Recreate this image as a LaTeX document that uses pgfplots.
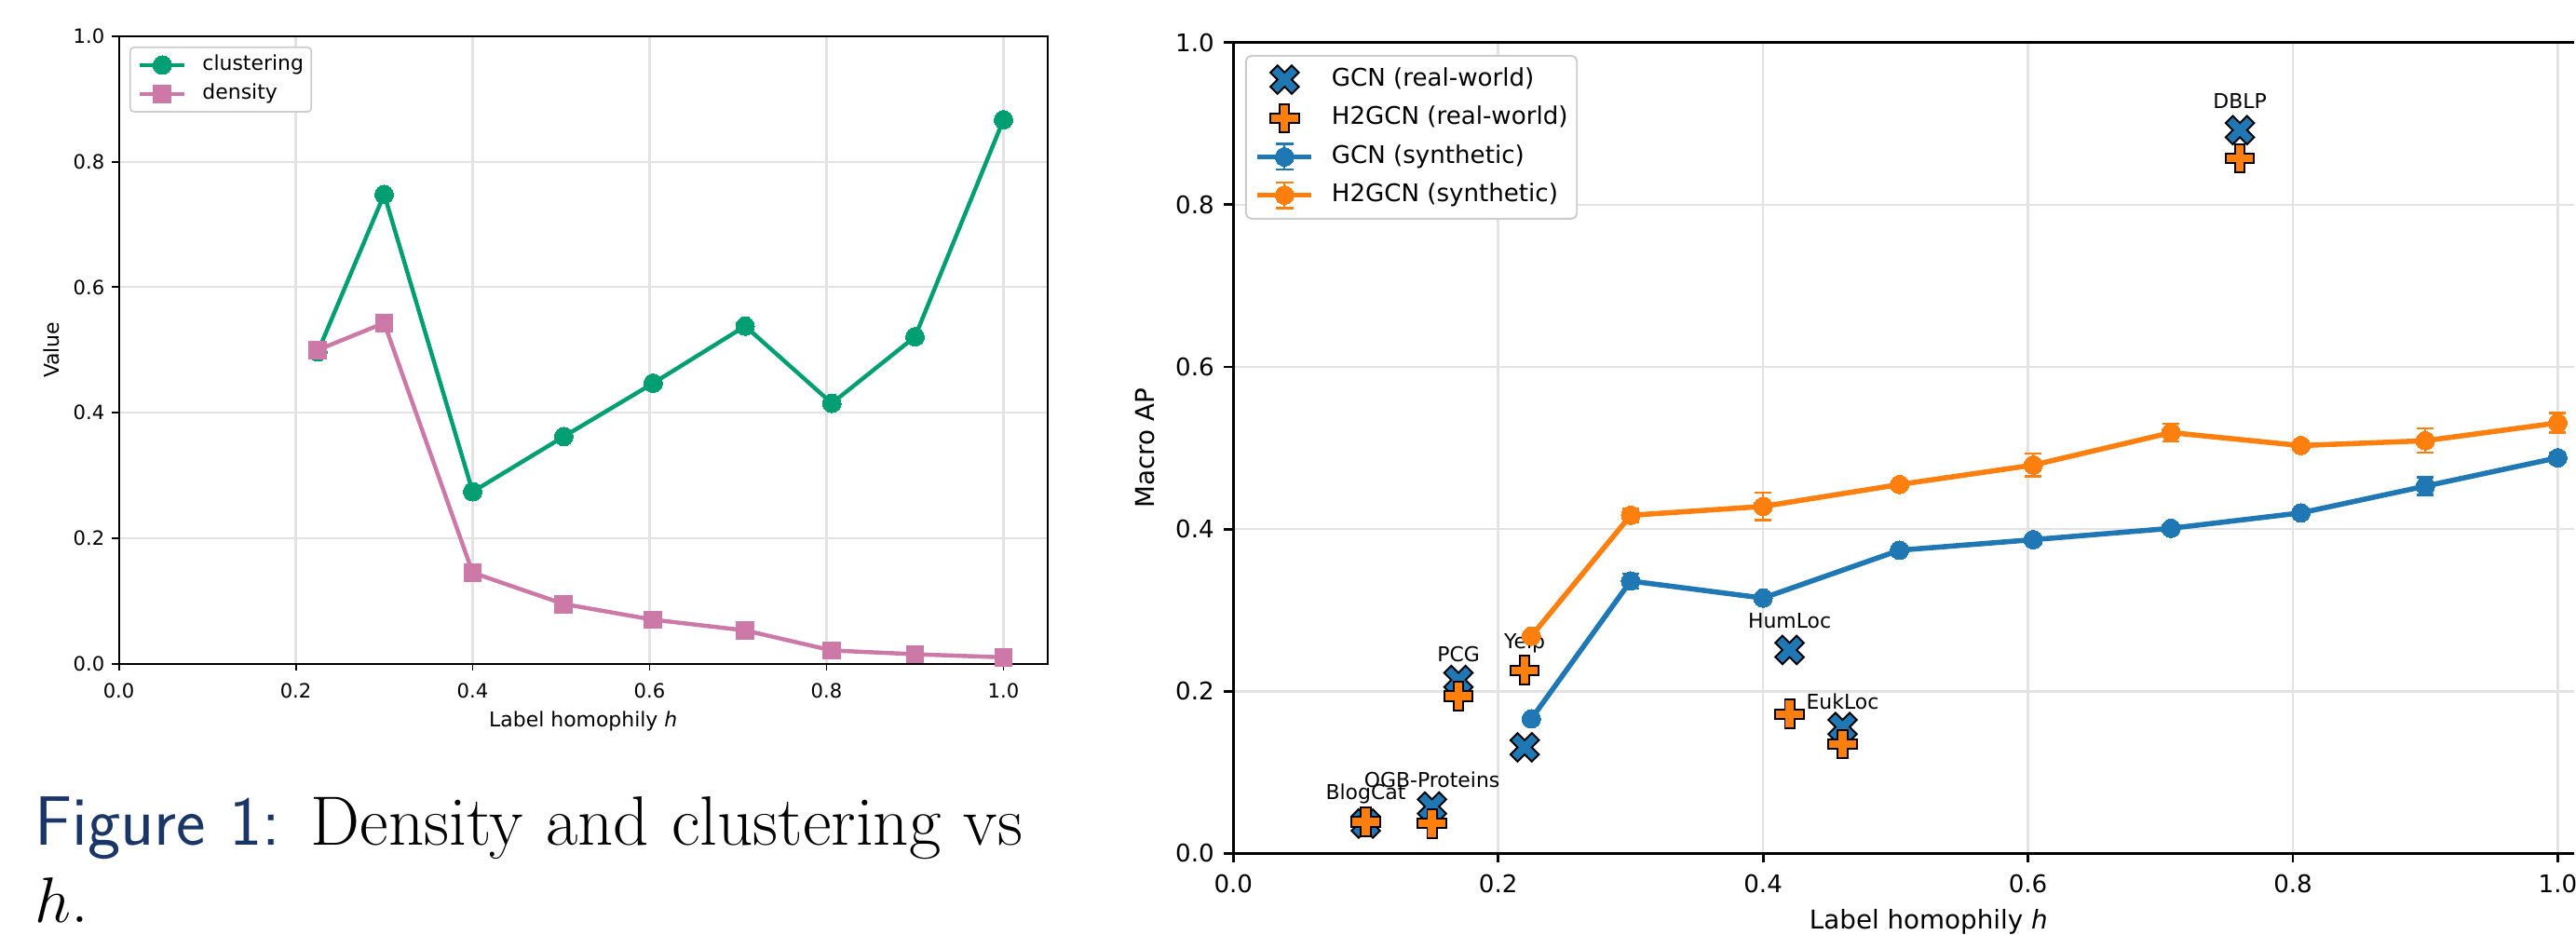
\documentclass[border=0pt]{standalone}
\usepackage{fontspec}
\usepackage{pgfplots}
\pgfplotsset{compat=1.18}
\newfontfamily\dejavu{DejaVu Sans}
\definecolor{cgreen}{HTML}{009E73}
\definecolor{cpink}{HTML}{CC79A7}
\definecolor{cblue}{HTML}{1F77B4}
\definecolor{corange}{HTML}{FF7F0E}
\definecolor{capblue}{HTML}{1A3668}
\definecolor{gridc}{HTML}{E3E3E3}
\definecolor{legc}{HTML}{CCCCCC}
\newcommand\lefttick{\dejavu\fontsize{7.6}{9}\selectfont}
\newcommand\leftlab{\dejavu\fontsize{7.9}{9.5}\selectfont}
\newcommand\righttick{\dejavu\fontsize{9.4}{11}\selectfont}
\newcommand\rightlab{\dejavu\fontsize{10}{12}\selectfont}
\newcommand\dslab{\dejavu\fontsize{7.9}{9.5}\selectfont}

\pgfdeclareplotmark{fatx}{%
  \pgfpathmoveto{\pgfqpoint{-0.5\pgfplotmarksize}{-1\pgfplotmarksize}}%
  \pgfpathlineto{\pgfqpoint{0pt}{-0.5\pgfplotmarksize}}%
  \pgfpathlineto{\pgfqpoint{0.5\pgfplotmarksize}{-1\pgfplotmarksize}}%
  \pgfpathlineto{\pgfqpoint{1\pgfplotmarksize}{-0.5\pgfplotmarksize}}%
  \pgfpathlineto{\pgfqpoint{0.5\pgfplotmarksize}{0pt}}%
  \pgfpathlineto{\pgfqpoint{1\pgfplotmarksize}{0.5\pgfplotmarksize}}%
  \pgfpathlineto{\pgfqpoint{0.5\pgfplotmarksize}{1\pgfplotmarksize}}%
  \pgfpathlineto{\pgfqpoint{0pt}{0.5\pgfplotmarksize}}%
  \pgfpathlineto{\pgfqpoint{-0.5\pgfplotmarksize}{1\pgfplotmarksize}}%
  \pgfpathlineto{\pgfqpoint{-1\pgfplotmarksize}{0.5\pgfplotmarksize}}%
  \pgfpathlineto{\pgfqpoint{-0.5\pgfplotmarksize}{0pt}}%
  \pgfpathlineto{\pgfqpoint{-1\pgfplotmarksize}{-0.5\pgfplotmarksize}}%
  \pgfpathclose
  \pgfusepathqfillstroke}
\pgfdeclareplotmark{fatplus}{%
  \pgfpathmoveto{\pgfqpoint{-0.3333\pgfplotmarksize}{-1\pgfplotmarksize}}%
  \pgfpathlineto{\pgfqpoint{-0.3333\pgfplotmarksize}{-0.3333\pgfplotmarksize}}%
  \pgfpathlineto{\pgfqpoint{-1\pgfplotmarksize}{-0.3333\pgfplotmarksize}}%
  \pgfpathlineto{\pgfqpoint{-1\pgfplotmarksize}{0.3333\pgfplotmarksize}}%
  \pgfpathlineto{\pgfqpoint{-0.3333\pgfplotmarksize}{0.3333\pgfplotmarksize}}%
  \pgfpathlineto{\pgfqpoint{-0.3333\pgfplotmarksize}{1\pgfplotmarksize}}%
  \pgfpathlineto{\pgfqpoint{0.3333\pgfplotmarksize}{1\pgfplotmarksize}}%
  \pgfpathlineto{\pgfqpoint{0.3333\pgfplotmarksize}{0.3333\pgfplotmarksize}}%
  \pgfpathlineto{\pgfqpoint{1\pgfplotmarksize}{0.3333\pgfplotmarksize}}%
  \pgfpathlineto{\pgfqpoint{1\pgfplotmarksize}{-0.3333\pgfplotmarksize}}%
  \pgfpathlineto{\pgfqpoint{0.3333\pgfplotmarksize}{-0.3333\pgfplotmarksize}}%
  \pgfpathlineto{\pgfqpoint{0.3333\pgfplotmarksize}{-1\pgfplotmarksize}}%
  \pgfpathclose
  \pgfusepathqfillstroke}

\pgfplotsset{
  synthlegend/.style={legend image code/.code={%
    \draw[sharp corners, #1, line width=0.85pt] (10.4pt,-4.97pt) -- (10.4pt,4.97pt) (7.04pt,-4.97pt) -- (13.76pt,-4.97pt) (7.04pt,4.97pt) -- (13.76pt,4.97pt);
    \draw[sharp corners,mark repeat=2,mark phase=2,##1] plot coordinates {(0pt,0pt) (10.4pt,0pt) (20.8pt,0pt)};}},
}

\begin{document}
\begin{tikzpicture}
\path (0pt,0pt) rectangle (995.76pt,361.44pt);
% ---------------- left panel ----------------
\begin{axis}[
  at={(45.94pt,104.76pt)}, anchor=south west,
  scale only axis, width=359.28pt, height=242.64pt,
  xmin=0, xmax=1.05, ymin=0, ymax=1,
  xtick={0,0.2,0.4,0.6,0.8,1.0}, ytick={0,0.2,0.4,0.6,0.8,1.0},
  xticklabels={0.0,0.2,0.4,0.6,0.8,1.0}, yticklabels={0.0,0.2,0.4,0.6,0.8,1.0},
  xtick pos=bottom, ytick pos=left, tick align=outside,
  major tick length=2.8pt,
  tick style={black, line width=0.7pt},
  axis line style={black, line width=0.7pt},
  grid=major, major grid style={gridc, line width=0.75pt},
  tick label style={font=\lefttick},
  xticklabel style={inner sep=4.5pt},
  yticklabel style={inner sep=2.5pt},
  xlabel={Label homophily \textit{h}}, ylabel={Value},
  every axis x label/.style={at={(axis description cs:0.5,0)}, anchor=center, inner sep=0pt, yshift=-22.1pt, font=\leftlab},
  every axis y label/.style={at={(axis description cs:0,0.5)}, xshift=-26.1pt, rotate=90, anchor=center, inner sep=0pt, font=\leftlab},
  legend cell align=left,
  legend style={at={(axis description cs:0,1)}, anchor=north west, xshift=4.1pt, yshift=-3.96pt,
    draw=legc, line width=0.6pt, rounded corners=1.5pt, fill=white,
    inner xsep=3pt, inner ysep=2.9pt, row sep=3.35pt,
    nodes={inner sep=0pt, text height=5.9pt, text depth=2pt},
    font=\leftlab,
    /tikz/every odd column/.append style={column sep=6.1pt}},
  legend image code/.code={\draw[sharp corners,mark repeat=2,mark phase=2,#1] plot coordinates {(0pt,0pt) (8.65pt,0pt) (17.3pt,0pt)};},
]
\addplot[cgreen, line width=1.6pt, line join=round, mark=*, mark size=3.6pt,
  mark options={solid, fill=cgreen, draw=cgreen, line width=0pt}]
  coordinates {(0.225,0.497)(0.300,0.748)(0.400,0.274)(0.503,0.362)(0.604,0.447)(0.708,0.538)(0.806,0.415)(0.900,0.521)(1.000,0.867)};
\addlegendentry{clustering}
\addplot[cpink, line width=1.6pt, line join=round, mark=square*, mark size=3.4pt,
  mark options={solid, fill=cpink, draw=cpink, line width=0pt}]
  coordinates {(0.225,0.500)(0.300,0.543)(0.400,0.145)(0.503,0.095)(0.604,0.070)(0.708,0.053)(0.806,0.021)(0.900,0.015)(1.000,0.010)};
\addlegendentry{density}
\end{axis}
% ---------------- right panel ----------------
\begin{axis}[
  at={(477pt,31.32pt)}, anchor=south west,
  scale only axis, width=518.76pt, height=313.67pt,
  xmin=0, xmax=1.0127, ymin=0, ymax=1,
  xtick={0,0.2,0.4,0.6,0.8,1.0}, ytick={0,0.2,0.4,0.6,0.8,1.0},
  xticklabels={0.0,0.2,0.4,0.6,0.8,{\makebox[0pt][c]{1.0}}}, yticklabels={0.0,0.2,0.4,0.6,0.8,1.0},
  xtick pos=bottom, ytick pos=left, tick align=outside,
  major tick length=3.6pt,
  tick style={black, line width=1pt},
  axis line style={draw=none},
  extra description/.code={\draw[black, line width=1.1pt, line cap=butt, line join=miter] (1,1) -- (0,1) -- (0,0) -- (1,0);},
  grid=major, major grid style={gridc, line width=0.9pt},
  tick label style={font=\righttick},
  xticklabel style={inner sep=4.4pt},
  yticklabel style={inner sep=3.6pt},
  xlabel={Label homophily \textit{h}}, ylabel={Macro AP},
  every axis x label/.style={at={(axis description cs:0,0)}, anchor=center, inner sep=0pt, xshift=268.9pt, yshift=-26.5pt, font=\rightlab},
  every axis y label/.style={at={(axis description cs:0,0.5)}, xshift=-34.2pt, rotate=90, anchor=center, inner sep=0pt, font=\rightlab},
  legend cell align=left,
  legend style={at={(axis description cs:0,1)}, anchor=north west, xshift=4.57pt, yshift=-4.79pt,
    draw=legc, line width=0.7pt, rounded corners=2pt, fill=white,
    inner xsep=3.5pt, inner ysep=3.7pt, row sep=4pt,
    nodes={inner sep=0pt, text height=7.1pt, text depth=2.25pt},
    font=\righttick,
    /tikz/every odd column/.append style={column sep=6.84pt}},
  legend image code/.code={\draw[sharp corners,mark repeat=2,mark phase=2,#1] plot coordinates {(0pt,0pt) (10.4pt,0pt) (20.8pt,0pt)};},
]
\addplot[only marks, mark=fatx, mark size=5.5pt, mark options={fill=cblue, draw=black, line width=0.7pt}]
  coordinates {(0.10,0.037)(0.15,0.058)(0.17,0.214)(0.22,0.131)(0.42,0.251)(0.46,0.156)(0.76,0.892)};
\addlegendentry{GCN (real-world)}
\addplot[only marks, mark=fatplus, mark size=5.5pt, mark options={fill=corange, draw=black, line width=0.7pt}]
  coordinates {(0.10,0.039)(0.15,0.037)(0.17,0.194)(0.22,0.226)(0.42,0.172)(0.46,0.135)(0.76,0.857)};
\addlegendentry{H2GCN (real-world)}
\addplot[cblue, line width=2pt, line join=round, mark=*, mark size=3.6pt,
  mark options={solid, fill=cblue, draw=cblue, line width=0pt},
  synthlegend=cblue,
  error bars/.cd, y dir=both, y explicit,
  error bar style={cblue, line width=0.85pt},
  error mark options={cblue, rotate=90, mark size=3.24pt, line width=0.85pt}]
  coordinates {(0.225,0.166) +- (0,0.004) (0.300,0.336) +- (0,0.009) (0.400,0.315) +- (0,0.005) (0.503,0.374) +- (0,0.005) (0.604,0.387) +- (0,0.005) (0.708,0.401) +- (0,0.005) (0.806,0.420) +- (0,0.005) (0.900,0.453) +- (0,0.011) (1.000,0.488) +- (0,0.006)};
\addlegendentry{GCN (synthetic)}
\addplot[corange, line width=2pt, line join=round, mark=*, mark size=3.6pt,
  mark options={solid, fill=corange, draw=corange, line width=0pt},
  synthlegend=corange,
  error bars/.cd, y dir=both, y explicit,
  error bar style={corange, line width=0.85pt},
  error mark options={corange, rotate=90, mark size=3.24pt, line width=0.85pt}]
  coordinates {(0.225,0.268) +- (0,0.005) (0.300,0.417) +- (0,0.008) (0.400,0.428) +- (0,0.017) (0.503,0.455) +- (0,0.005) (0.604,0.479) +- (0,0.014) (0.708,0.519) +- (0,0.011) (0.806,0.503) +- (0,0.005) (0.900,0.509) +- (0,0.015) (1.000,0.531) +- (0,0.012)};
\addlegendentry{H2GCN (synthetic)}
\node[anchor=base, inner sep=0pt, font=\dslab] at (axis cs:0.10,0.067) {BlogCat};
\node[anchor=base, inner sep=0pt, font=\dslab] at (axis cs:0.15,0.082) {OGB-Proteins};
\node[anchor=base, inner sep=0pt, font=\dslab] at (axis cs:0.17,0.237) {PCG};
\node[anchor=base, inner sep=0pt, font=\dslab] at (axis cs:0.22,0.253) {Yelp};
\node[anchor=base, inner sep=0pt, font=\dslab] at (axis cs:0.42,0.278) {HumLoc};
\node[anchor=base, inner sep=0pt, font=\dslab] at (axis cs:0.46,0.178) {EukLoc};
\node[anchor=base, inner sep=0pt, font=\dslab] at (axis cs:0.76,0.919) {DBLP};
\end{axis}
% ---------------- caption ----------------
\node[anchor=base west, inner sep=0pt, font=\fontsize{27}{32.4}\selectfont] at (13.32pt,34.56pt)
  {\makebox[382pt][s]{\textcolor{capblue}{\sffamily Figure 1:} Density and clustering vs}};
\node[anchor=base west, inner sep=0pt, font=\fontsize{27}{32.4}\selectfont] at (13.32pt,4.5pt) {$h$.};
\end{tikzpicture}
\end{document}
